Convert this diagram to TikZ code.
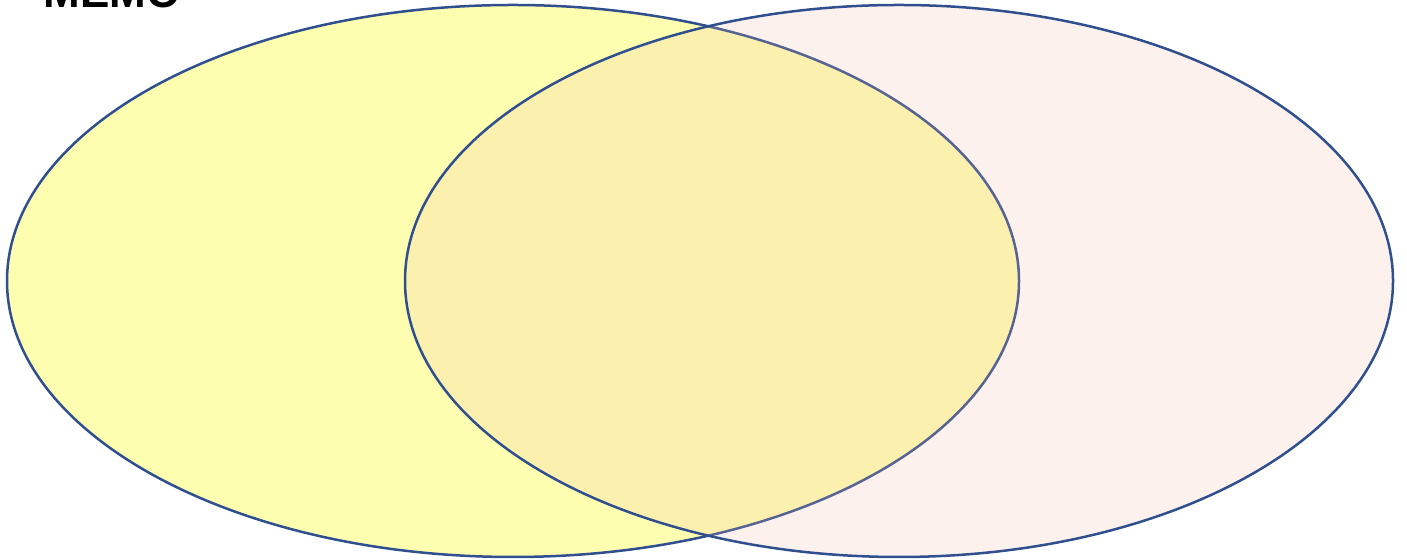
\documentclass[tikz,border=0pt]{standalone}
\usepackage{fontspec}
\setmainfont{Liberation Sans}
\definecolor{edge}{RGB}{47,79,143}
\definecolor{leftfill}{RGB}{254,254,176}
\definecolor{rightfill}{RGB}{242,186,167}
\tikzset{
  venn/.style={draw=edge, line width=1.25pt},
  memo/.style={anchor=base west, inner sep=0pt, font=\fontsize{22}{26}\selectfont\bfseries}
}
\begin{document}
\begin{tikzpicture}[x=0.5pt,y=0.5pt]
\useasboundingbox (0,0) rectangle (1407,560);
\draw[venn, fill=leftfill] (513,279) ellipse [x radius=506, y radius=276];
\draw[venn, fill=rightfill, fill opacity=0.2] (899,279) ellipse [x radius=494, y radius=276];
\node[memo] (memo) at (43,552) {MEMO};
\end{tikzpicture}
\end{document}
